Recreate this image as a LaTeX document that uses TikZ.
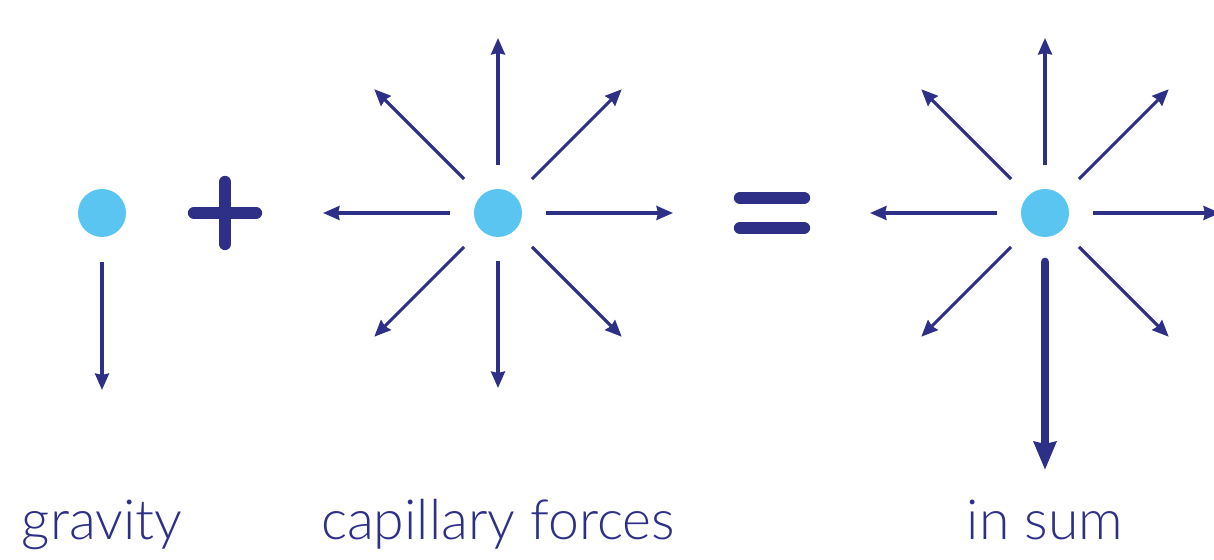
\documentclass[tikz,border=0pt]{standalone}
\usepackage{fontspec}
\setmainfont{Lato}[UprightFont=* Light]
\usetikzlibrary{calc,arrows.meta}
\definecolor{navy}{HTML}{2E3087}
\definecolor{drop}{HTML}{5BC5F2}

\begin{document}
\begin{tikzpicture}[x=0.02cm,y=0.02cm,
    dot/.style={circle,fill=drop,minimum size=0.96cm,inner sep=0pt},
    force/.style={navy,line width=1.8pt,-{Stealth[length=0.33cm,width=0.28cm,inset=0.03cm]}},
    bigforce/.style={navy,line width=5pt,line cap=round,-{Stealth[length=0.56cm,width=0.44cm,inset=0.04cm]}},
    sign/.style={navy,line width=7pt,line cap=round},
    lbl/.style={anchor=base,text=navy,font=\fontsize{31.5}{36}\selectfont}]
  \useasboundingbox (0,0) rectangle (1214,560);
  % gravity
  \node[dot] (grav) at (102,347) {};
  \draw[force] (grav) ++(0,-49) -- ++(0,-128);
  \node[lbl] (gravlbl) at (102,20) {gravity};
  % plus
  \coordinate (plus) at (225,347);
  \draw[sign] ($(plus)+(-31,0)$) -- ($(plus)+(31,0)$);
  \draw[sign] ($(plus)+(0,-31)$) -- ($(plus)+(0,31)$);
  % capillary forces
  \node[dot] (cap) at (498,347) {};
  \foreach \a in {0,45,...,315}
    \draw[force] (cap) ++(\a:48) -- ++(\a:127);
  \node[lbl] (caplbl) at (498,20) {capillary forces};
  % equals
  \coordinate (eq) at (772,347);
  \draw[sign] ($(eq)+(-32,15)$) -- ($(eq)+(32,15)$);
  \draw[sign] ($(eq)+(-32,-15)$) -- ($(eq)+(32,-15)$);
  % in sum
  \node[dot] (sum) at (1045,347) {};
  \foreach \a in {0,45,...,225,315}
    \draw[force] (sum) ++(\a:48) -- ++(\a:127);
  \draw[bigforce] (sum) ++(0,-49) -- ++(0,-208);
  \node[lbl] (sumlbl) at (1045,20) {in sum};
\end{tikzpicture}
\end{document}
